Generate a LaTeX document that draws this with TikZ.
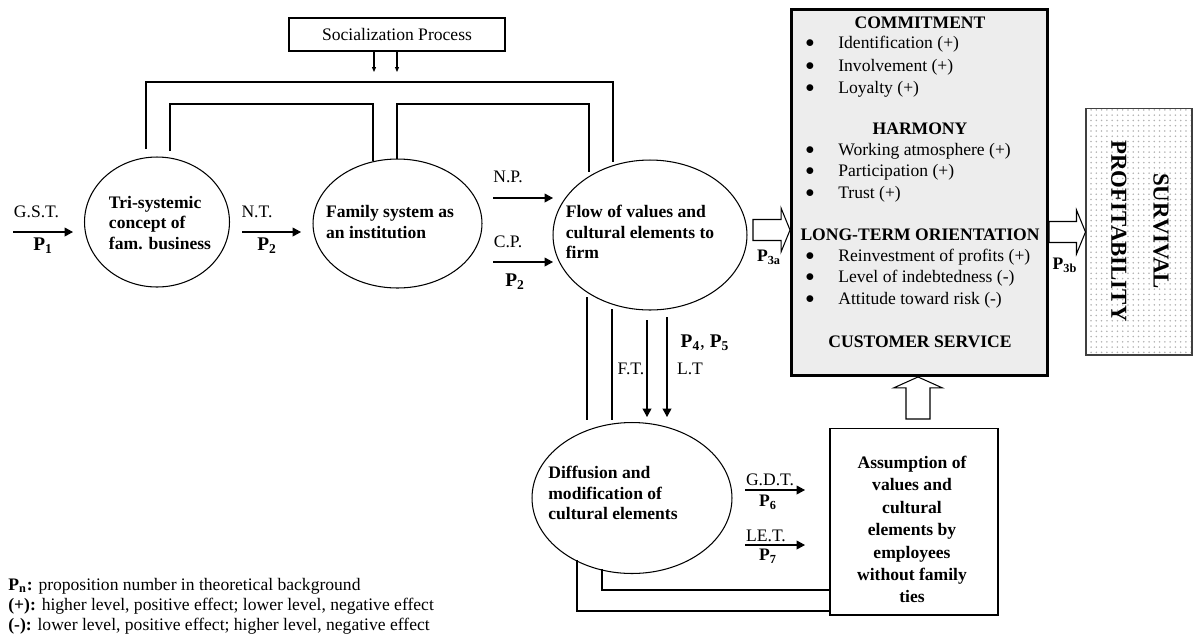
\documentclass[tikz,border=0pt]{standalone}
\usepackage{fontspec}
\setmainfont{Liberation Serif}
\usetikzlibrary{shapes.geometric, arrows.meta, positioning, calc, patterns}

\newcommand{\pnum}[1]{\textbf{P\textsubscript{#1}}}
% outlined block arrows (start, end)
\newcommand{\fatright}[2]{\draw[fat] let \p1=(#1), \p2=(#2) in
  (\x1,\y1+0.21cm) -- (\x2-0.18cm,\y1+0.21cm) -- (\x2-0.18cm,\y1+0.44cm) -- (\x2,\y1)
  -- (\x2-0.18cm,\y1-0.44cm) -- (\x2-0.18cm,\y1-0.21cm) -- (\x1,\y1-0.21cm) -- cycle;}
\newcommand{\fatup}[2]{\draw[fat] let \p1=(#1), \p2=(#2) in
  (\x1+0.24cm,\y1) -- (\x1+0.24cm,\y2-0.22cm) -- (\x1+0.49cm,\y2-0.22cm) -- (\x1,\y2)
  -- (\x1-0.49cm,\y2-0.22cm) -- (\x1-0.24cm,\y2-0.22cm) -- (\x1-0.24cm,\y1) -- cycle;}

\begin{document}
\begin{tikzpicture}[
    x=0.02cm, y=-0.02cm,
    every node/.style={font=\fontsize{10}{11.6}\selectfont},
    oval/.style={ellipse, draw, line width=0.6pt, inner sep=0pt},
    ovaltext/.style={align=left, inner sep=0pt, font=\fontsize{10}{11.6}\selectfont\bfseries},
    plainbox/.style={rectangle, draw, line width=0.6pt, inner sep=0pt},
    mainbox/.style={rectangle, draw, line width=1.7pt, fill=black!7, inner sep=0pt},
    head/.style={font=\fontsize{10}{12}\selectfont\bfseries, inner sep=0pt},
    plabel/.style={font=\fontsize{11}{12}\selectfont, inner sep=0pt},
    slabel/.style={font=\fontsize{10}{12}\selectfont, inner sep=0pt},
    line/.style={line width=0.6pt},
    arrow/.style={-{Triangle[length=0.17cm, width=0.18cm]}, line width=0.6pt},
    tip/.style={-{Triangle[length=0.1cm, width=0.08cm]}, line width=0.6pt},
    fat/.style={line width=0.6pt, fill=white}
]
\useasboundingbox (0,0) rectangle (1194,637);

% Socialization
\node[plainbox, minimum width=4.32cm, minimum height=0.66cm] (social) at (397,34.5) {Socialization Process};
\coordinate (s1) at (374,72);
\coordinate (s2) at (397,72);
\draw[tip] (social.south -| s1) -- (s1);
\draw[tip] (social.south -| s2) -- (s2);

% Ellipses
\node[oval, minimum width=2.9cm, minimum height=2.6cm] (tri) at (157,222) {};
\node[ovaltext] (tri-txt) at (160,223) {Tri-systemic\\concept of\\fam. business};
\node[oval, minimum width=3.38cm, minimum height=2.58cm] (fam) at (397.5,223.5) {};
\node[ovaltext] (fam-txt) at (390,222) {Family system as\\an institution};
\node[oval, minimum width=3.88cm, minimum height=3.0cm] (flow) at (650,235) {};
\node[ovaltext] (flow-txt) at (640,232) {Flow of values and\\cultural elements to\\firm};
\node[oval, minimum width=4.0cm, minimum height=3.02cm] (diff) at (632,498) {};
\node[ovaltext] (diff-txt) at (613,493) {Diffusion and\\modification of\\cultural elements};

% Boxes
\node[mainbox, minimum width=5.12cm, minimum height=7.32cm] (traits) at (919.5,192.5) {};
\node[plainbox, minimum width=3.36cm, minimum height=3.74cm] (assume) at (914,521.5) {};
\node[align=center, inner sep=0pt, font=\fontsize{10}{12.75}\selectfont\bfseries] (assume-txt) at (912,529.5)
  {Assumption of\\values and\\cultural\\elements by\\employees\\without family\\ties};
\node[rectangle, draw=black!75, line width=0.6pt, pattern=dots, pattern color=black!30,
  minimum width=2.12cm, minimum height=4.94cm, inner sep=0pt] (surv) at (1139,231.5) {};
\node[rotate=-90, align=center, inner sep=0pt, font=\fontsize{13}{24}\selectfont\bfseries] (surv-txt) at (1140,231)
  {SURVIVAL\\PROFITABILITY};

% Box contents
\node[head] (commit) at (920,23) {COMMITMENT};
\node[head] (harmony) at (920,129) {HARMONY};
\node[head] (longterm) at (920,235) {LONG-TERM ORIENTATION};
\node[head] (custserv) at (920,342) {CUSTOMER SERVICE};
\foreach \y/\t in {44/Identification (+), 67/Involvement (+), 89/Loyalty (+),
    151/Working atmosphere (+), 172/Participation (+), 194/Trust (+),
    257/Reinvestment of profits (+), 278/Level of indebtedness (-), 300/Attitude toward risk (-)} {
  \node (dot-\y) at (810,\y) {$\bullet$};
  \node[anchor=west, inner sep=0pt] (item-\y) at (838,\y) {\t};
}

% Bracket lines from socialization
\draw[line] (146,149) -- (146,82) -- (613,82) -- (613,162);
\draw[line] (170,151) -- (170,104) -- (373,104) -- (373,161);
\draw[line] (397,159) -- (397,104) -- (589,104) -- (589,172);

% Left chain
\coordinate (gst-s) at (13,232);
\coordinate (gst-e) at (73,232);
\draw[arrow] (gst-s) -- (gst-e);
\node[slabel] (gst) at (36.5,212) {G.S.T.};
\node[plabel] (p1) at (43,246) {\pnum{1}};
\coordinate (nt-s) at (242,232);
\coordinate (nt-e) at (301,232);
\draw[arrow] (nt-s) -- (nt-e);
\node[slabel] (nt) at (257,212) {N.T.};
\node[plabel] (p2a) at (267,246) {\pnum{2}};

% Into flow
\coordinate (np-s) at (493,198);
\coordinate (np-e) at (553,198);
\draw[arrow] (np-s) -- (np-e);
\node[slabel] (np) at (508,177) {N.P.};
\coordinate (cp-s) at (493,262);
\coordinate (cp-e) at (553,262);
\draw[arrow] (cp-s) -- (cp-e);
\node[slabel] (cp) at (508,242) {C.P.};
\node[plabel] (p2b) at (515,282) {\pnum{2}};

% Block arrows
\coordinate (p3a-s) at (753,230);
\fatright{p3a-s}{p3a-s -| traits.west}
\node[slabel] (p3a) at (769,257) {\pnum{3a}};
\coordinate (p3b-s) at (1049,232);
\fatright{p3b-s}{p3b-s -| surv.west}
\node[slabel] (p3b) at (1065,265) {\pnum{3b}};
\coordinate (up-s) at (918,419);
\fatup{up-s}{up-s |- traits.south}

% Flow to diffusion
\draw[line] (587,297) -- (587,420);
\draw[line] (612,309) -- (612,420);
\draw[arrow] (647,320) -- (647,417);
\draw[arrow] (667,317) -- (667,417);
\node[slabel] (ft) at (631,369) {F.T.};
\node[slabel] (lt) at (690,369) {L.T};
\node[plabel] (p45) at (705,343) {\pnum{4}, \pnum{5}};

% Diffusion to assumption
\coordinate (gdt-s) at (745,490);
\coordinate (gdt-e) at (805,490);
\draw[arrow] (gdt-s) -- (gdt-e);
\node[slabel] (gdt) at (770,480) {G.D.T.};
\node[slabel] (p6) at (768,502) {\pnum{6}};
\coordinate (let-s) at (745,545);
\coordinate (let-e) at (805,545);
\draw[arrow] (let-s) -- (let-e);
\node[slabel] (let) at (766,536) {LE.T.};
\node[slabel] (p7) at (768,556) {\pnum{7}};

% Feedback
\draw[line] (602,569) -- (602,590) -- (602,590 -| assume.west);
\draw[line] (577,560) -- (577,611) -- (577,611 -| assume.west);

% Legend
\node[anchor=west, align=left, inner sep=0pt, font=\fontsize{10}{11.4}\selectfont] (legend) at (8,606)
  {\textbf{P\textsubscript{n}:} proposition number in theoretical background\\
   \textbf{(+):} higher level, positive effect; lower level, negative effect\\
   \textbf{(-):} lower level, positive effect; higher level, negative effect};

\end{tikzpicture}
\end{document}
